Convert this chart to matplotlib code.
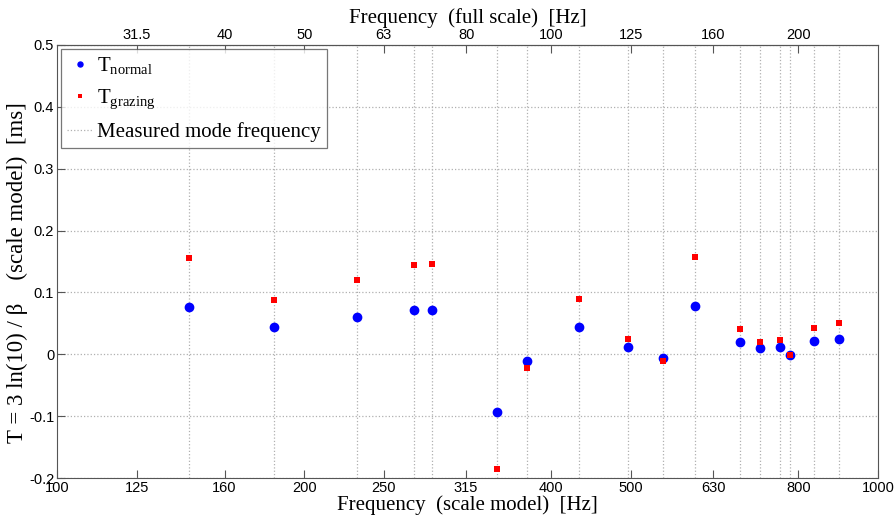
import matplotlib
matplotlib.use("Agg")
import matplotlib.pyplot as plt
from matplotlib.ticker import FixedLocator, NullLocator

# measured mode frequencies (scale model) [Hz]
mode_freq = [144.8, 183.8, 231.8, 272.0, 286.6, 343.3, 373.9, 431.9, 496.2,
             546.8, 599.0, 678.5, 718.3, 760.3, 781.3, 835.7, 896.7]
# T = 3 ln(10) / beta [ms]
t_normal = [0.077, 0.0435, 0.060, 0.072, 0.072, -0.093, -0.0113, 0.0446, 0.0118,
            -0.0065, 0.0785, 0.0199, 0.0096, 0.0118, -0.001, 0.0214, 0.0247]
t_grazing = [0.156, 0.0876, 0.120, 0.1445, 0.1456, -0.185, -0.0221, 0.089, 0.0247,
             -0.0108, 0.158, 0.0408, 0.0204, 0.0236, -0.001, 0.0424, 0.0505]

bottom_ticks = [100, 125, 160, 200, 250, 315, 400, 500, 630, 800, 1000]
top_ticks = [125, 160, 200, 250, 315, 400, 500, 630, 800]
top_labels = ["31.5", "40", "50", "63", "80", "100", "125", "160", "200"]
y_ticks = [-0.2, -0.1, 0, 0.1, 0.2, 0.3, 0.4, 0.5]

serif = "Liberation Serif"
sans = "Liberation Sans"
plt.rcParams["mathtext.fontset"] = "custom"
plt.rcParams["mathtext.rm"] = serif

fig = plt.figure(figsize=(8.94, 5.19), dpi=100)
ax = fig.add_axes([57 / 894, 41 / 519, 821 / 894, 433 / 519])

# mode frequency lines
for f in mode_freq:
    ax.axvline(f, color="#b0b0b0", linestyle=":", linewidth=0.9, zorder=1)

h1, = ax.plot(mode_freq, t_normal, "o", color="#0000ff", markersize=6, zorder=3,
              label=r"$\mathrm{T}_{\mathrm{normal}}$")
h2, = ax.plot(mode_freq, t_grazing, "s", color="#ff0000", markersize=4.5, markeredgewidth=0,
              zorder=4, label=r"$\mathrm{T}_{\mathrm{grazing}}$")
h3, = ax.plot([], [], color="#b0b0b0", linestyle=":", linewidth=0.9, label="Measured mode frequency")

ax.set_xscale("log")
ax.set_xlim(100, 1000)
ax.set_ylim(-0.2, 0.5)
ax.xaxis.set_major_locator(FixedLocator(bottom_ticks))
ax.xaxis.set_minor_locator(NullLocator())
ax.set_xticklabels([str(t) for t in bottom_ticks])
ax.set_yticks(y_ticks)
ax.set_yticklabels(["-0.2", "-0.1", "0", "0.1", "0.2", "0.3", "0.4", "0.5"])
ax.yaxis.grid(True, color="#b0b0b0", linestyle=":", linewidth=0.9)
ax.set_axisbelow(True)

for s in ax.spines.values():
    s.set_color("#555555")
ax.tick_params(direction="in", length=6, color="#555555", labelsize=10.5, pad=2)
for lab in ax.get_xticklabels() + ax.get_yticklabels():
    lab.set_family(sans)

top = ax.secondary_xaxis("top")
top.xaxis.set_major_locator(FixedLocator(top_ticks))
top.xaxis.set_minor_locator(NullLocator())
top.set_xticklabels(top_labels)
top.tick_params(direction="in", length=6, color="#555555", labelsize=10.5, pad=2)
for lab in top.get_xticklabels():
    lab.set_family(sans)
top.spines["top"].set_color("#555555")
top.set_xlabel("Frequency  (full scale)  [Hz]", family=serif, fontsize=15, labelpad=4)

ax.set_xlabel("Frequency  (scale model)  [Hz]", family=serif, fontsize=15, labelpad=0)
ax.set_ylabel("T = 3 ln(10) / β    (scale model)  [ms]", family=serif, fontsize=16.5, labelpad=1)
ax.yaxis.set_label_coords(-0.035, 0.475)

leg = ax.legend(handles=[h1, h2, h3], loc="upper left", prop={"family": serif, "size": 15},
                frameon=True, fancybox=False, edgecolor="#555555", borderaxespad=0.2,
                handlelength=1.2, handletextpad=0.2, borderpad=0.3, labelspacing=0.5,
                markerscale=0.6)
leg.get_frame().set_linewidth(0.9)

fig.savefig("out.png", dpi=100)
